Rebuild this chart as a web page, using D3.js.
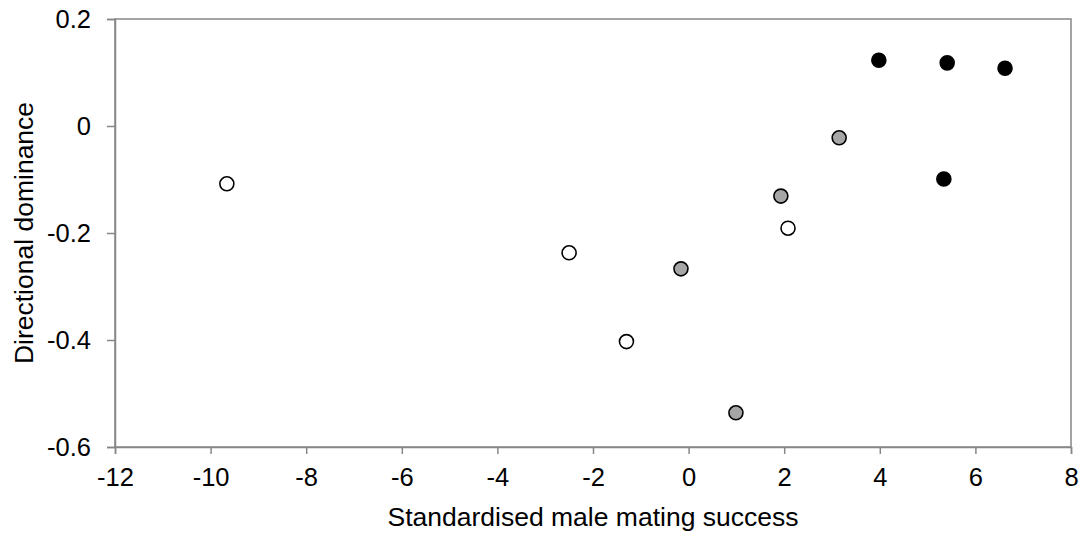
<!DOCTYPE html>
<html>
<head>
<meta charset="utf-8">
<script src="https://cdn.jsdelivr.net/npm/d3@7"></script>
<style>
  body { margin: 0; background: #fff; }
  text { font-family: "Liberation Sans", Arial, sans-serif; fill: #000; }
</style>
</head>
<body>
<div id="scatter"></div>
<script>
// Data
var groups = ["open", "grey", "black"];
var xValues = {
  open: [-9.66, -2.50, -1.30, 2.08],
  grey: [-0.16, 1.93, 3.15, 0.99],
  black: [3.98, 5.41, 6.62, 5.34]
};
var yValues = {
  open: [-0.108, -0.237, -0.403, -0.191],
  grey: [-0.267, -0.131, -0.022, -0.536],
  black: [0.123, 0.118, 0.108, -0.099]
};
var xTicks = [-12, -10, -8, -6, -4, -2, 0, 2, 4, 6, 8];
var yTicks = [-0.6, -0.4, -0.2, 0, 0.2];

var fills = { open: "#ffffff", grey: "#a6a6a6", black: "#000000" };

// Chart setup
var svgWidth = 1083;
var svgHeight = 533;

var margin = {
  top: 19,
  right: 12,
  bottom: 86,
  left: 115
};

var width = svgWidth - margin.left - margin.right;
var height = svgHeight - margin.top - margin.bottom;

var svg = d3.select("#scatter")
  .append("svg")
  .attr("width", svgWidth)
  .attr("height", svgHeight);

var chartGroup = svg.append("g")
  .attr("transform", `translate(${margin.left}, ${margin.top})`);

var xLinearScale = d3.scaleLinear().domain([-12, 8]).range([0, width]);
var yLinearScale = d3.scaleLinear().domain([-0.6, 0.2]).range([height, 0]);

var axisColor = "#868686";

// plot frame
chartGroup.append("rect")
  .attr("x", 0)
  .attr("y", 0)
  .attr("width", width)
  .attr("height", height)
  .attr("fill", "none")
  .attr("stroke", axisColor)
  .attr("stroke-width", 1.5);

// plain hyphen for negatives, like the original
var bottomAxis = d3.axisBottom(xLinearScale)
  .tickValues(xTicks)
  .tickSize(7)
  .tickPadding(14)
  .tickFormat(d => String(d));

var leftAxis = d3.axisLeft(yLinearScale)
  .tickValues(yTicks)
  .tickSize(8)
  .tickPadding(16)
  .tickFormat(d => d === 0 ? "0" : d.toFixed(1));

var xAxis = chartGroup.append("g")
  .attr("transform", `translate(0, ${height})`)
  .call(bottomAxis);

var yAxis = chartGroup.append("g")
  .call(leftAxis);

[xAxis, yAxis].forEach(function(ax) {
  ax.select(".domain").attr("stroke", axisColor).attr("stroke-width", 1.5);
  ax.selectAll(".tick line").attr("stroke", axisColor).attr("stroke-width", 1.5);
  ax.selectAll(".tick text")
    .attr("fill", "#000")
    .style("font-size", "25.5px")
    .style("font-family", "'Liberation Sans', Arial, sans-serif");
});

// Scatter circles
groups.forEach(function(g) {
  var pts = xValues[g].map((x, i) => ({ x: x, y: yValues[g][i] }));
  chartGroup.selectAll("circle." + g)
    .data(pts)
    .enter()
    .append("circle")
    .attr("class", g)
    .attr("cx", d => xLinearScale(d.x))
    .attr("cy", d => yLinearScale(d.y))
    .attr("r", 7)
    .attr("fill", fills[g])
    .attr("stroke", "#000")
    .attr("stroke-width", 1.6);
});

// Axes labels
chartGroup.append("text")
  .attr("x", width / 2)
  .attr("y", height + 79)
  .attr("text-anchor", "middle")
  .style("font-size", "26.5px")
  .text("Standardised male mating success");

chartGroup.append("text")
  .attr("transform", "rotate(-90)")
  .attr("x", -height / 2)
  .attr("y", -margin.left + 33)
  .attr("text-anchor", "middle")
  .style("font-size", "26.5px")
  .text("Directional dominance");
</script>
</body>
</html>
